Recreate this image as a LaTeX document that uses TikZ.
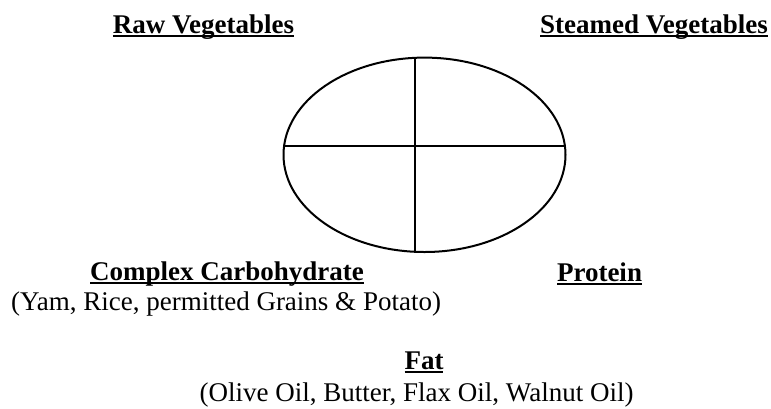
\documentclass[tikz,border=0pt]{standalone}
\usepackage{fontspec}
\setmainfont{Liberation Serif}
\usetikzlibrary{shapes.geometric}
\tikzset{
  plate/.style={ellipse,draw=black,line width=1pt,minimum width=141pt,minimum height=97.2pt,inner sep=0pt},
  split/.style={draw=black,line width=1pt},
  head/.style={font=\fontsize{13.5}{16}\selectfont\bfseries,inner sep=0pt,anchor=base},
  note/.style={font=\fontsize{13.5}{16}\selectfont,inner sep=0pt,anchor=base}
}
\newcommand{\hd}[1]{\setbox0\hbox{#1}\rlap{\rule[-1.9pt]{\wd0}{1.1pt}}\box0}
\begin{document}
\begin{tikzpicture}[x=0.5pt,y=-0.5pt]
  \useasboundingbox (0,0) rectangle (771,408);
  \node[plate] (plate) at (424.5,154.8) {};
  \coordinate (vtop) at (415,57.6); \coordinate (vbot) at (415,252);
  \coordinate (hleft) at (284,146); \coordinate (hright) at (565,146);
  \draw[split] (vtop)--(vbot);
  \draw[split] (hleft)--(hright);
  \node[head] (raw) at (203.5,33) {\hd{Raw Vegetables}};
  \node[head] (steam) at (654,33) {\hd{Steamed Vegetables}};
  \node[head] (carb) at (227,280) {\hd{Complex Carbohydrate}};
  \node[note] (carbx) at (226,310) {(Yam, Rice, permitted Grains \& Potato)};
  \node[head] (prot) at (599.5,281) {\hd{Protein}};
  \node[head] (fat) at (424,369) {\hd{Fat}};
  \node[note] (fatx) at (416.5,401) {(Olive Oil, Butter, Flax Oil, Walnut Oil)};
\end{tikzpicture}
\end{document}
